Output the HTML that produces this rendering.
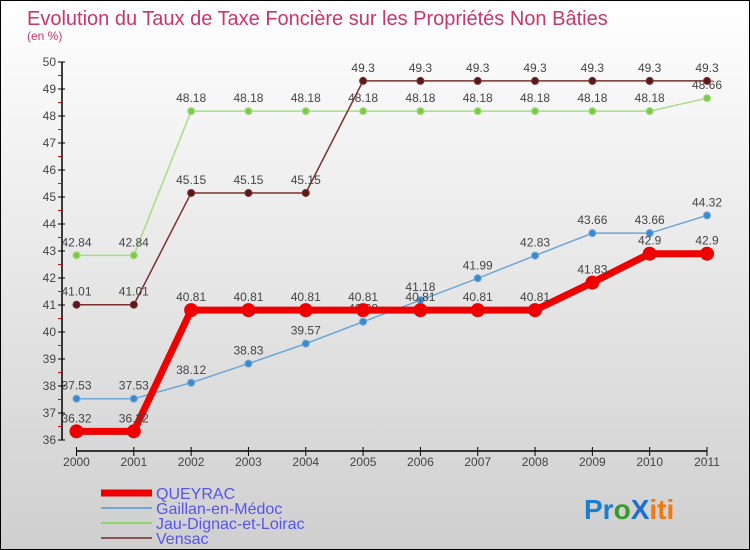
<!DOCTYPE html>
<html><head><meta charset="utf-8"><style>
body{margin:0;}
#c{width:748px;height:548px;border:1px solid #000;background:linear-gradient(#ffffff,#cfcfcf);position:relative;overflow:hidden;font-family:"Liberation Sans",sans-serif;}
</style></head><body>
<div id="c">
<svg id="s" width="748" height="548" xmlns="http://www.w3.org/2000/svg">
<text x="26" y="24" font-size="20" fill="#c8376a">Evolution du Taux de Taxe Foncière sur les Propriétés Non Bâties</text>
<text x="26" y="39" font-size="12" fill="#c8376a">(en %)</text>
<g id="axes"></g><g id="series"></g>
<g>
<line x1="100" y1="492" x2="151" y2="492" stroke="#e00" stroke-width="7"/>
<text x="155" y="498" font-size="16" fill="#5555ee">QUEYRAC</text>
<line x1="100" y1="507" x2="151" y2="507" stroke="#6fa6d6" stroke-width="2"/>
<text x="155" y="513" font-size="16" fill="#5555ee">Gaillan-en-Médoc</text>
<line x1="100" y1="522" x2="151" y2="522" stroke="#8fd46a" stroke-width="2"/>
<text x="155" y="528" font-size="16" fill="#5555ee">Jau-Dignac-et-Loirac</text>
<line x1="100" y1="537" x2="151" y2="537" stroke="#8a5555" stroke-width="2"/>
<text x="155" y="543" font-size="16" fill="#5555ee">Vensac</text>
</g>
<text x="583" y="518" font-size="28" font-weight="bold"><tspan fill="#1a7fd0">Pr</tspan><tspan fill="#3a9a2a">o</tspan><tspan fill="#1a6fd0">X</tspan><tspan fill="#f07a10">iti</tspan></text>
</svg></div>
<script>
const years=[2000,2001,2002,2003,2004,2005,2006,2007,2008,2009,2010,2011];
const queyrac=[36.32,36.32,40.81,40.81,40.81,40.81,40.81,40.81,40.81,41.83,42.9,42.9];
const gaillan=[37.53,37.53,38.12,38.83,39.57,40.38,41.18,41.99,42.83,43.66,43.66,44.32];
const jau=[42.84,42.84,48.18,48.18,48.18,48.18,48.18,48.18,48.18,48.18,48.18,48.66];
const vensac=[41.01,41.01,45.15,45.15,45.15,49.3,49.3,49.3,49.3,49.3,49.3,49.3];
const yTicks=[36,37,38,39,40,41,42,43,44,45,46,47,48,49,50];
const NS="http://www.w3.org/2000/svg";
const X=i=>75.5+i*(630.5/11);
const Y=v=>439-(v-36)*27;
function mk(p,t,a){const e=document.createElementNS(NS,t);for(const k in a)e.setAttribute(k,a[k]);p.appendChild(e);return e;}
const ax=document.getElementById('axes');
let e=mk(ax,'line',{x1:61,y1:Y(50),x2:61,y2:Y(36),stroke:'#000','stroke-width':1.5});


e=mk(ax,'line',{x1:X(0),y1:450,x2:X(11),y2:450,stroke:'#000','stroke-width':1.5});


yTicks.forEach(v=>{
 mk(ax,'line',{x1:57,y1:Y(v),x2:64,y2:Y(v),stroke:'#000'});
 if(v<50) mk(ax,'line',{x1:57,y1:Y(v+0.5),x2:61,y2:Y(v+0.5),stroke:'#e00'});
 const t=mk(ax,'text',{x:55,y:Y(v)+4,'text-anchor':'end','font-size':12,fill:'#444'});
 t.textContent=v;
 
 
});
years.forEach((y,i)=>{
 mk(ax,'line',{x1:X(i),y1:446,x2:X(i),y2:455,stroke:'#000'});
 const t=mk(ax,'text',{x:X(i),y:465,'text-anchor':'middle','font-size':12,fill:'#444'});
 t.textContent=y;
 
 
});
const sg=document.getElementById('series');
function draw(name,vals,color,w,r,dot){
 const g=mk(sg,'g',{});
 
 
 const p=mk(g,'polyline',{points:vals.map((v,i)=>X(i)+','+Y(v)).join(' '),fill:'none',stroke:color,'stroke-width':w});
 
 
 vals.forEach((v,i)=>{
  const c=mk(g,'circle',{cx:X(i),cy:Y(v),r:r,fill:dot,stroke:color,'stroke-width':1});
  
  
  const t=mk(g,'text',{x:X(i),y:Y(v)-9,'text-anchor':'middle','font-size':12,fill:'#444'});
  t.textContent=v;
  
  
 });
}
draw('jau',jau,'#a8dc88',1.5,3.5,'#7acc44');
draw('vensac',vensac,'#7a3030',1.5,3.5,'#5a1a1a');
draw('gaillan',gaillan,'#6fa6d6',1.5,3.5,'#3a8ad0');
draw('queyrac',queyrac,'#e00',7,6.5,'#e00');
</script>
</body></html>
